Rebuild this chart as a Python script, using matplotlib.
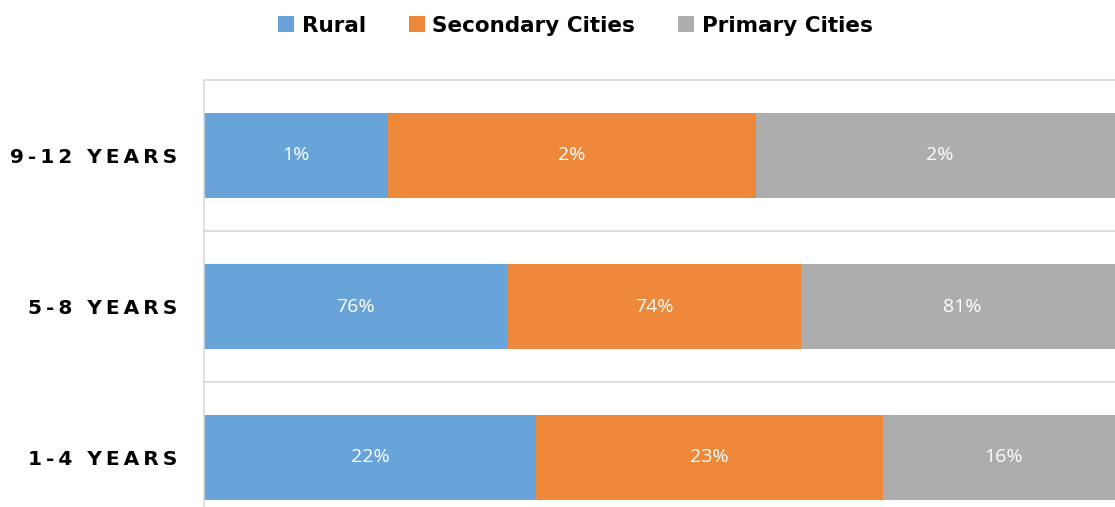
import numpy as np
import matplotlib
matplotlib.use("Agg")
import matplotlib.pyplot as plt

categories = ["1-4 YEARS", "5-8 YEARS", "9-12 YEARS"]
series = ["Rural", "Secondary Cities", "Primary Cities"]
rural = [22, 76, 1]
secondary = [23, 74, 2]
primary = [16, 81, 2]
colors = ["#68A4DA", "#EE883A", "#ADADAD"]

values = np.array([rural, secondary, primary], dtype=float)
shares = values / values.sum(axis=0)

fig = plt.figure(figsize=(11.15, 5.07), dpi=100)
ax = fig.add_axes([204 / 1115, -26 / 507, 920 / 1115, 453 / 507])

y = np.arange(len(categories))
left = np.zeros(len(categories))
handles = []
for name, share, raw, col in zip(series, shares, values, colors):
    bars = ax.barh(y, share, left=left, height=0.56, color=col, label=name)
    handles.append(bars)
    for yi, l, w, v in zip(y, left, share, raw):
        ax.text(l + w / 2, yi, f"{v:.0f}%", ha="center", va="center",
                color="white", fontsize=14, family="Open Sans")
    left += share

ax.set_xlim(0, 1)
ax.set_ylim(-0.5, 2.5)
ax.set_xticks([])
ax.set_yticks(y)
ax.set_yticklabels(["\u2009".join(c) for c in categories],
                   fontsize=14.5, fontweight="heavy", family="DejaVu Sans")
ax.tick_params(axis="y", length=0, pad=19)
for b in [0.5, 1.5]:
    ax.axhline(b, color="#D9D9D9", lw=1.2, zorder=0)
for s in ["right", "bottom"]:
    ax.spines[s].set_visible(False)
for s in ["top", "left"]:
    ax.spines[s].set_color("#D9D9D9")
    ax.spines[s].set_linewidth(1.2)

fig.legend(handles=handles, loc="center", bbox_to_anchor=(0.516, 0.949), ncol=3,
           frameon=False, handlelength=0.75, handleheight=0.75, handletextpad=0.35,
           columnspacing=2.0, prop={"weight": "heavy", "size": 15.5, "family": "DejaVu Sans"})

fig.savefig("out.png", dpi=100)
